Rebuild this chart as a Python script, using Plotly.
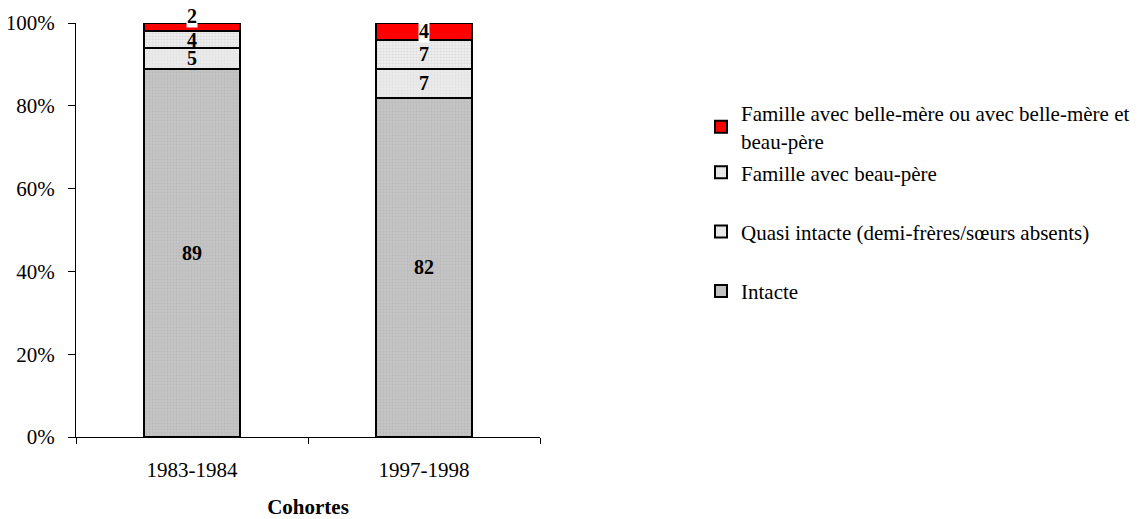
import plotly.graph_objects as go

cohorts = ["1983-1984", "1997-1998"]
intacte = [89, 82]
quasi = [5, 7]
beau_pere = [4, 7]
belle_mere = [2, 4]

names = [
    "Intacte",
    "Quasi intacte (demi-frères/sœurs absents)",
    "Famille avec beau-père",
    "Famille avec belle-mère ou avec belle-mère et<br>beau-père",
]
y_ticks = [0, 20, 40, 60, 80, 100]
y_tick_labels = ["0%", "20%", "40%", "60%", "80%", "100%"]

FONT = "Liberation Serif, Times New Roman, serif"
FS = 21
LFS = 20

series = [intacte, quasi, beau_pere, belle_mere]
colors = ["#C0C0C0", "#E8E8E8", "#EDEDED", "#FF0000"]
patterns = [
    dict(shape=".", fgcolor="#B0B0B0", bgcolor="#C4C4C4", size=3, solidity=0.3),
    dict(shape=".", fgcolor="#DADADA", bgcolor="#EAEAEA", size=3, solidity=0.3),
    dict(shape=".", fgcolor="#C8C8C8", bgcolor="#EFEFEF", size=3, solidity=0.4),
    None,
]
ranks = [3, 2, 1, 1]

fig = go.Figure()
for i, (vals, nm, col, pat) in enumerate(zip(series, names, colors, patterns)):
    marker = dict(color=col, line=dict(color="black", width=2))
    if pat:
        marker["pattern"] = pat
    show_text = i < 3
    if show_text:
        kw = dict(
            text=[str(v) for v in vals],
            texttemplate="<b>%{text}</b>",
            textposition="inside",
            insidetextanchor="middle",
            textangle=0,
            textfont=dict(family=FONT, size=LFS, color="black"),
        )
    else:
        kw = dict(textposition="none")
    fig.add_trace(go.Bar(
        x=cohorts, y=vals, name=nm, marker=marker,
        legendgroup=str(i),
        legendrank=ranks[i],
        legend="legend2" if i == 3 else "legend",
        hoverinfo="skip",
        **kw,
    ))

# red labels with white background (data-driven positions)
for c, a, b, d, e in zip(cohorts, intacte, quasi, beau_pere, belle_mere):
    base = a + b + d
    fig.add_annotation(
        x=c, y=base + e / 2, text=f"<b>{e}</b>", showarrow=False,
        font=dict(family=FONT, size=LFS, color="black"),
        bgcolor="white", borderpad=0,
        yshift=11 if e < 3 else 0,
    )

leg_common = dict(
    xanchor="left", yanchor="top",
    font=dict(family=FONT, size=FS, color="black"),
    bgcolor="rgba(0,0,0,0)",
)

fig.update_layout(
    barmode="stack",
    bargap=0.59,
    width=1137, height=511,
    margin=dict(l=68, r=605, t=15, b=82, autoexpand=False),
    paper_bgcolor="white", plot_bgcolor="white",
    font=dict(family=FONT, size=FS, color="black"),
    uniformtext=dict(mode="show", minsize=LFS),
    legend=dict(x=1.347, y=0.688, traceorder="grouped",
                tracegroupgap=29, **leg_common),
    legend2=dict(x=1.347, y=0.831, **leg_common),
    showlegend=True,
)
fig.update_yaxes(
    range=[0, 100], tickvals=y_ticks, ticktext=y_tick_labels,
    showline=True, linecolor="black", linewidth=1,
    ticks="outside", ticklen=7, tickcolor="black",
    ticklabelstandoff=9, automargin=False,
    showgrid=False, zeroline=False,
    tickfont=dict(family=FONT, size=FS),
)
fig.update_xaxes(
    showline=True, linecolor="black", linewidth=1,
    ticks="outside", ticklen=6, tickcolor="black", tickson="boundaries",
    ticklabelstandoff=14, automargin=False,
    showgrid=False,
    tickfont=dict(family=FONT, size=FS),
    title=dict(text="<b>Cohortes</b>", font=dict(family=FONT, size=FS), standoff=22),
)

fig.write_html("out.html")
